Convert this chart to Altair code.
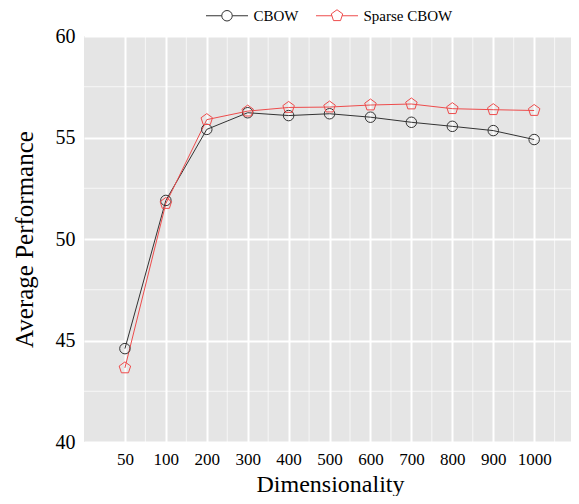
import json
import altair as alt
import pandas as pd

# ---- data ----
dims = ["50", "100", "200", "300", "400", "500", "600", "700", "800", "900", "1000"]
cbow = [44.6, 51.9, 55.4, 56.22, 56.08, 56.17, 56.0, 55.75, 55.55, 55.34, 54.9]
sparse_cbow = [43.65, 51.75, 55.88, 56.3, 56.48, 56.5, 56.6, 56.65, 56.42, 56.37, 56.33]
series = ["CBOW", "Sparse CBOW"]
colors = ["#333333", "#EE4C4C"]
y_ticks = [40, 45, 50, 55, 60]
minor_x = [1.5, 2.5, 3.5, 4.5, 5.5, 6.5, 7.5, 8.5, 9.5, 10.5, 11.5]
minor_y = [42.5, 47.5, 52.5, 57.5]

rows = []
for name, vals in zip(series, [cbow, sparse_cbow]):
    for i, (d, v) in enumerate(zip(dims, vals)):
        rows.append({"series": name, "dim": d, "idx": i + 1, "val": v})
df = pd.DataFrame(rows)

# marker shapes (unit paths) and legend shapes (line + marker)
circle_path = "circle"
pent_path = "M0,-1.15L1.094,-0.355L0.676,0.93L-0.676,0.93L-1.094,-0.355Z"
leg_circle = ("M-1,0L-0.25,0M0.25,0L1,0M0.25,0A0.25,0.25,0,1,1,-0.25,0"
              "A0.25,0.25,0,1,1,0.25,0")
leg_pent = ("M-1,0L-0.243,0M0.243,0L1,0M0,-0.286L0.272,-0.088L0.168,0.231"
            "L-0.168,0.231L-0.272,-0.088Z")

x_scale = alt.Scale(domain=[0, 11.9], nice=False, zero=False)
y_scale = alt.Scale(domain=[40, 60], nice=False, zero=False)
color_scale = alt.Scale(domain=series, range=colors)

label_expr = json.dumps(dims) + "[datum.value - 1]"

x_enc = alt.X("idx:Q", scale=x_scale,
              axis=alt.Axis(values=list(range(1, 12)), labelExpr=label_expr,
                            title="Dimensionality", labelFontSize=17,
                            labelPadding=9, titleFontSize=24,
                            titleFontWeight="normal",
                            titleBaseline="alphabetic", titleY=49, titleX=246))
y_enc = alt.Y("val:Q", scale=y_scale,
              axis=alt.Axis(values=y_ticks, title="Average Performance",
                            labelFontSize=20, labelPadding=9, titleFontSize=25,
                            titleFontWeight="normal", titleBaseline="alphabetic",
                            titleAngle=-90, titleX=-52, titleY=203))

base = alt.Chart(df)

minor_v = alt.Chart(pd.DataFrame({"mx": minor_x})).mark_rule(
    color="white", strokeWidth=1, opacity=0.7
).encode(x=alt.X("mx:Q", scale=x_scale))

minor_h = alt.Chart(pd.DataFrame({"my": minor_y})).mark_rule(
    color="white", strokeWidth=1, opacity=0.7
).encode(y=alt.Y("my:Q", scale=y_scale))

lines = base.mark_line(strokeWidth=1).encode(
    x=x_enc, y=y_enc,
    color=alt.Color("series:N", scale=color_scale, legend=None),
    detail="series:N",
)

points = base.mark_point(filled=False, size=110, strokeWidth=1, opacity=1).encode(
    x="idx:Q", y="val:Q",
    color=alt.Color("series:N", scale=color_scale, legend=None),
    shape=alt.Shape("series:N",
                    scale=alt.Scale(domain=series, range=[circle_path, pent_path]),
                    legend=None),
)

legend_layer = base.transform_filter("false").mark_point(
    filled=False, strokeWidth=1, opacity=1
).encode(
    x="idx:Q", y="val:Q",
    color=alt.Color("series:N", scale=color_scale,
                    legend=alt.Legend(title=None)),
    shape=alt.Shape("series:N",
                    scale=alt.Scale(domain=series, range=[leg_circle, leg_pent]),
                    legend=alt.Legend(title=None)),
)

chart = alt.layer(minor_v, minor_h, lines, points, legend_layer).resolve_scale(
    shape="independent"
).resolve_legend(
    shape="independent", color="independent"
).properties(
    width=487, height=406,
    autosize=alt.AutoSizeParams(type="none"),
    padding={"left": 76, "top": 28, "right": 0, "bottom": 54},
).configure_view(
    fill="#E5E5E5", stroke=None
).configure_axis(
    domain=False, ticks=False, grid=True, gridColor="white", gridWidth=2,
    labelFont="Liberation Serif", titleFont="Liberation Serif",
    labelColor="black", titleColor="black",
).configure_legend(
    orient="none", legendX=121.5, legendY=-42, direction="horizontal",
    labelFont="Liberation Serif", labelFontSize=15, labelColor="black",
    labelOffset=5, columnPadding=15, symbolSize=1764, symbolStrokeWidth=1,
    padding=0,
)

chart.save("out.html", embed_options={"renderer": "svg", "actions": False})
